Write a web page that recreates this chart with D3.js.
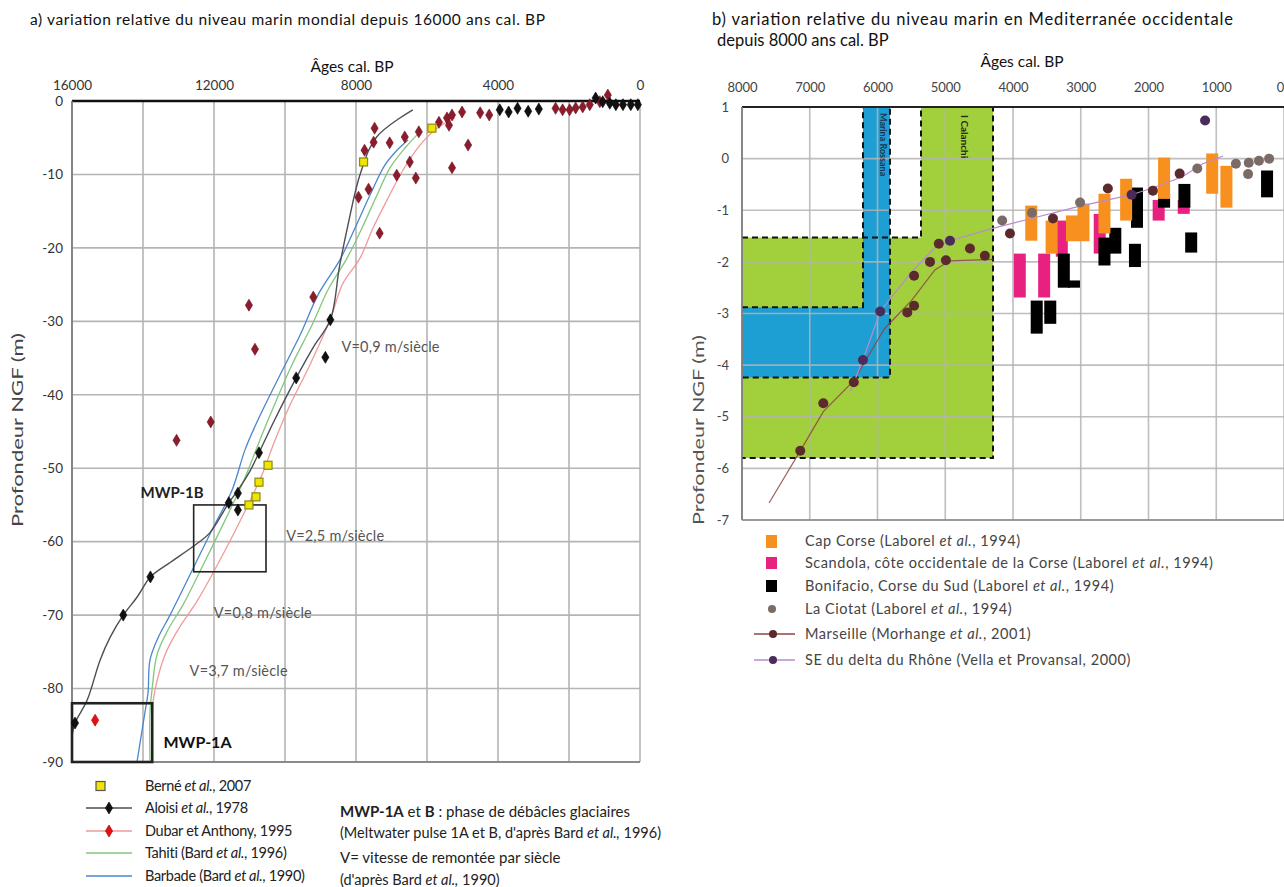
<!DOCTYPE html>
<html><head><meta charset="utf-8">
<script src="https://d3js.org/d3.v7.min.js"></script>
<style>
body{margin:0;background:#fff;}
svg{display:block;font-family:Lato,"Open Sans",sans-serif;}
</style></head>
<body>
<svg id="c" width="1284" height="887"></svg>
<script>
// ---------- DATA : panel a ----------
const leftXTicks = [16000, 12000, 8000, 4000, 0];
const leftXGrid = [16000, 14000, 12000, 10000, 8000, 6000, 4000, 2000, 0];
const leftYTicks = [0, -10, -20, -30, -40, -50, -60, -70, -80, -90];

const berne = [[7787,-8.3],[5862,-3.7],[10478,-49.6],[10733,-51.9],[10818,-53.9],[11016,-55.0]];
const aloisiLine = [[16000,-86.5],[15915,-84.7],[15575,-81.6],[15207,-76.1],[14924,-73.0],[14556,-70.0],[14159,-67.5],[13791,-64.8],[13225,-62.8],[12602,-60.7],[12120,-58.8],[11582,-54.7],[11327,-53.0],[11000,-50.5],[10733,-47.9],[10300,-43.5],[9685,-37.7],[9200,-33.5],[8722,-29.8],[8467,-22.6],[8240,-17.2],[7872,-9.8],[7419,-4.9],[6400,-1.2]];
const aloisiPts = [[15915,-84.7],[14556,-70.0],[13791,-64.8],[11582,-54.7],[11327,-53.4],[11327,-55.7],[10733,-47.9],[9685,-37.7],[8863,-34.9],[8722,-29.8],[3950,-1.2],[3700,-1.5],[3450,-1.0],[3150,-1.4],[2850,-1.1],[1250,0.4],[1050,-0.1],[850,-0.3],[680,-0.5],[480,-0.5],[260,-0.5],[60,-0.5]];
const dubarPts = [[11016,-27.8],[10846,-33.8],[12092,-43.7],[13055,-46.2],[9203,-26.7],[7476,-3.7],[7504,-5.6],[7759,-6.7],[7051,-5.7],[6626,-4.9],[6230,-4.2],[7929,-13.1],[7646,-12.0],[6853,-10.1],[6485,-8.3],[6315,-10.5],[7334,-18.0],[5663,-2.9],[5437,-2.3],[5295,-1.9],[5012,-1.5],[5380,-3.3],[4502,-1.6],[4247,-1.9],[5295,-9.1],[4842,-6.0],[2378,-1.0],[2180,-1.2],[1982,-1.2],[1812,-0.95],[1614,-0.8],[1415,-0.5],[906,0.8],[1132,-0.1]];
const dubarRed = [[15349,-84.3]];
const dubarLine = [[13746,-90],[13746,-83.2],[13662,-80.2],[13380,-75.4],[13014,-72.0],[12451,-67.9],[11831,-62.5],[11183,-56.4],[10648,-50.9],[10282,-46.2],[9859,-41.4],[9296,-35.9],[8732,-29.8],[8366,-24.8],[7887,-21.4],[7521,-17.3],[7127,-13.5],[6676,-9.4],[6197,-6.0],[5718,-3.7],[5211,-2.3]];
const tahitiLine = [[13803,-90],[13803,-83.2],[13746,-80.2],[13606,-75.4],[13296,-72.0],[12873,-68.6],[12310,-63.2],[11690,-57.1],[11155,-51.6],[10760,-46.8],[10422,-42.8],[9803,-35.9],[9239,-30.5],[8788,-25.7],[8253,-21.4],[7831,-17.3],[7436,-13.1],[7042,-9.1],[6620,-6.4],[6197,-4.2]];
const barbadeLine = [[14169,-90],[13944,-83.2],[13859,-80.6],[13803,-76.1],[13577,-73.1],[13239,-70.0],[12676,-64.5],[12056,-58.4],[11493,-53.0],[11127,-47.5],[10760,-43.4],[10141,-37.3],[9578,-31.9],[9070,-26.4],[8450,-21.6],[8028,-17.3],[7605,-12.8],[7183,-8.7],[6845,-6.7],[6535,-5.3]];
const mwpBoxes = [{name:"MWP-1B", x0:12573, x1:10535, y0:-55, y1:-64.1},{name:"MWP-1A", x0:16000, x1:13740, y0:-82, y1:-90}];
const leftNotes = [
  {t:"V=0,9 m/siècle", yr:8410, d:-34.2},
  {t:"V=2,5 m/siècle", yr:9968, d:-59.9},
  {t:"V=0,8 m/siècle", yr:12007, d:-70.4},
  {t:"V=3,7 m/siècle", yr:12687, d:-78.3}];

// ---------- DATA : panel b ----------
const rightXTicks = [8000,7000,6000,5000,4000,3000,2000,1000,0];
const rightYTicks = [1,0,-1,-2,-3,-4,-5,-6,-7];
const greenZone = [[8000,-1.53],[5358,-1.53],[5358,1],[4295,1],[4295,-5.8],[8000,-5.8]];
const blueZone = [[8000,-2.88],[6214,-2.88],[6214,1],[5816,1],[5816,-4.24],[8000,-4.24]];
const capCorse = [[3730,-0.91,-1.59],[3430,-1.2,-1.84],[3130,-1.1,-1.6],[2960,-0.87,-1.6],[2650,-0.68,-1.45],[2330,-0.39,-1.2],[1770,0.02,-0.78],[1060,0.1,-0.68],[850,-0.14,-0.95]];
const scandola = [[3900,-1.84,-2.69],[3540,-1.84,-2.69],[3280,-1.2,-1.9],[2720,-1.07,-1.84],[1850,-0.8,-1.2],[1480,-0.8,-1.07]];
const bonifacio = [[3250,-1.84,-2.5],[2650,-1.53,-2.07],[2490,-1.34,-1.84],[2200,-1.65,-2.1],[2170,-0.56,-1.34],[1770,-0.68,-0.95],[1470,-0.49,-0.95],[1370,-1.43,-1.82],[250,-0.23,-0.75],[3650,-2.75,-3.39],[3450,-2.75,-3.2],[3100,-2.36,-2.5]];
const laCiotat = [[4160,-1.2],[3720,-1.05],[3010,-0.85],[1280,-0.19],[710,-0.1],[520,-0.08],[530,-0.3],[370,-0.04],[220,0.0]];
const marseilleLine = [[7601,-6.67],[7140,-5.66],[6800,-4.9],[6350,-4.3],[5900,-3.3],[5500,-2.75],[5150,-2.15],[4930,-1.98],[4300,-1.95]];
const marseillePts = [[7140,-5.66],[6800,-4.74],[6350,-4.33],[5560,-2.98],[5460,-2.85],[5460,-2.27],[5225,-2.0],[4990,-1.97],[5095,-1.65],[4635,-1.74],[4415,-1.88],[4045,-1.45],[3410,-1.16],[2600,-0.58],[1935,-0.62],[1540,-0.29]];
const rhoneLine = [[6400,-4.5],[6215,-3.9],[5960,-2.96],[5500,-2.2],[5150,-1.72],[4930,-1.59],[4300,-1.35],[3700,-1.15],[3100,-0.95],[2600,-0.8],[2250,-0.7],[1900,-0.55],[1500,-0.35],[1200,-0.1],[900,0.05]];
const rhonePts = [[6215,-3.9],[5960,-2.96],[4930,-1.59],[2250,-0.7],[1165,0.74]];

const leftLegend = ["Berné|et al.|, 2007","Aloisi |et al.|, 1978","Dubar et Anthony, 1995||","Tahiti (Bard |et al.|, 1996)","Barbade (Bard |et al.|, 1990)"];
const rightLegend = ["Cap Corse (Laborel et al., 1994)","Scandola, côte occidentale de la Corse (Laborel et al., 1994)","Bonifacio, Corse du Sud (Laborel et al., 1994)","La Ciotat (Laborel et al., 1994)","Marseille (Morhange et al., 2001)","SE du delta du Rhône (Vella et Provansal, 2000)"];

// ---------- DRAW ----------
const svg = d3.select("#c");
const C = {dubar:"#8e1b2b", red:"#e41010", aloisi:"#111", aloisiLine:"#4d4d55", pink:"#f19a9a", green:"#83c77c", blue:"#4a87cc",
  yellow:"#f0e400", grid:"#b4b4b4", orange:"#f7901e", magenta:"#e8207f", ciotat:"#7a6b67", mars:"#8c4444", marsDot:"#5b2a2c",
  rhone:"#b88ad0", rhoneDot:"#4a2c58", gz:"#a2cf3c", bz:"#1e9fd4"};
const fmt = d => String(d);

// Panel a scales
const xL = d3.scaleLinear().domain([16000,0]).range([72,640]);
const yL = d3.scaleLinear().domain([0,-90]).range([101,762]);
const gA = svg.append("g");

gA.append("text").attr("x",30).attr("y",25).attr("font-size",15.5).attr("fill","#111").attr("textLength",515).attr("lengthAdjust","spacing")
  .text("a) variation relative du niveau marin mondial depuis 16000 ans cal. BP");
gA.append("text").attr("x",352).attr("y",72).attr("font-size",15.5).attr("text-anchor","middle").attr("fill","#111").text("Âges cal. BP");

// grid
gA.selectAll(".vg").data(leftXGrid).join("line").attr("x1",d=>xL(d)).attr("x2",d=>xL(d)).attr("y1",yL(0)).attr("y2",yL(-90))
  .attr("stroke",C.grid).attr("stroke-width",1.6);
gA.selectAll(".hg").data(leftYTicks).join("line").attr("x1",xL(16000)).attr("x2",xL(0)).attr("y1",d=>yL(d)).attr("y2",d=>yL(d))
  .attr("stroke",C.grid).attr("stroke-width",1.6);
gA.append("line").attr("x1",xL(16000)).attr("x2",xL(0)).attr("y1",yL(0)).attr("y2",yL(0)).attr("stroke","#111").attr("stroke-width",2.5);
gA.append("line").attr("x1",xL(16000)).attr("x2",xL(16000)).attr("y1",yL(0)).attr("y2",yL(-90)).attr("stroke","#777").attr("stroke-width",1.6);
gA.append("line").attr("x1",xL(16000)).attr("x2",xL(0)).attr("y1",yL(-90)).attr("y2",yL(-90)).attr("stroke","#777").attr("stroke-width",1.6);

// axes labels
const axT = d3.axisTop(xL).tickValues(leftXTicks).tickSize(0).tickPadding(0).tickFormat(fmt);
gA.append("g").attr("transform","translate(0,90)").call(axT).call(g=>g.select(".domain").remove())
  .selectAll("text").attr("font-size",13.5).attr("fill","#333").attr("font-family","Lato");
const axY = d3.axisLeft(yL).tickValues(leftYTicks).tickSize(0).tickPadding(0).tickFormat(fmt);
gA.append("g").attr("transform","translate(63,0)").call(axY).call(g=>g.select(".domain").remove())
  .selectAll("text").attr("font-size",13.5).attr("fill","#333").attr("font-family","Lato");
gA.append("text").attr("transform","translate(23,430) rotate(-90)").attr("text-anchor","middle").attr("font-size",16)
  .attr("fill","#444").attr("textLength",194).attr("lengthAdjust","spacingAndGlyphs").text("Profondeur NGF (m)");

// lines
const lineL = d3.line().x(d=>xL(d[0])).y(d=>yL(d[1])).curve(d3.curveCatmullRom);
gA.append("path").datum(barbadeLine).attr("d",lineL).attr("fill","none").attr("stroke",C.blue).attr("stroke-width",1.3);
gA.append("path").datum(tahitiLine).attr("d",lineL).attr("fill","none").attr("stroke",C.green).attr("stroke-width",1.3);
gA.append("path").datum(dubarLine).attr("d",lineL).attr("fill","none").attr("stroke",C.pink).attr("stroke-width",1.3);
gA.append("path").datum(aloisiLine).attr("d",lineL).attr("fill","none").attr("stroke",C.aloisiLine).attr("stroke-width",1.4);

// boxes
gA.selectAll(".box").data(mwpBoxes).join("rect")
  .attr("x",d=>xL(d.x0)).attr("y",d=>yL(d.y0)).attr("width",d=>xL(d.x1)-xL(d.x0)).attr("height",d=>yL(d.y1)-yL(d.y0))
  .attr("fill","none").attr("stroke","#222").attr("stroke-width",(d,i)=>i? 2.6:1.6);

const diamond = "M0,-6L3.6,0L0,6L-3.6,0Z";
const drawDiam = (data,fill,stroke)=> gA.selectAll(null).data(data).join("path").attr("d",diamond)
  .attr("transform",d=>`translate(${xL(d[0])},${yL(d[1])})`).attr("fill",fill).attr("stroke",stroke).attr("stroke-width",0.6);
drawDiam(dubarPts,C.dubar,"#6a1420");
drawDiam(dubarRed,C.red,"#b00");
drawDiam(aloisiPts,C.aloisi,"#000");
gA.selectAll(null).data(berne).join("rect").attr("x",d=>xL(d[0])-4).attr("y",d=>yL(d[1])-4).attr("width",8).attr("height",8)
  .attr("fill",C.yellow).attr("stroke","#8a8a10").attr("stroke-width",1.2);

// annotations
gA.selectAll(null).data(leftNotes).join("text").attr("x",d=>xL(d.yr)).attr("y",d=>yL(d.d)).attr("font-size",14.5)
  .attr("fill","#555").attr("letter-spacing",0.2).text(d=>d.t);
gA.append("text").attr("x",xL(12290)).attr("y",yL(-54)).attr("text-anchor","end").attr("font-size",15).attr("font-weight","bold").attr("fill","#222").text("MWP-1B");
gA.append("text").attr("x",xL(13423)).attr("y",yL(-88.1)).attr("font-size",16).attr("font-weight","bold").attr("fill","#111").text("MWP-1A");

// left legend
const lgL = gA.append("g");
const lgY = [786,808,831,853,876];
lgL.append("rect").attr("x",96).attr("y",lgY[0]-4.5).attr("width",9).attr("height",9).attr("fill",C.yellow).attr("stroke","#555").attr("stroke-width",1.2);
[[C.aloisiLine,C.aloisi],[C.pink,C.red],[C.green,null],[C.blue,null]].forEach((c,i)=>{
  const y = lgY[i+1];
  lgL.append("line").attr("x1",86).attr("x2",132).attr("y1",y).attr("y2",y).attr("stroke",c[0]).attr("stroke-width",1.6);
  if(c[1]) lgL.append("path").attr("d",diamond).attr("transform",`translate(109,${y})`).attr("fill",c[1]).attr("stroke",c[1]==C.red?"#900":"#000").attr("stroke-width",0.6);
});
leftLegend.forEach((s,i)=>{
  const p = s.split("|");
  const t = lgL.append("text").attr("x",145).attr("y",lgY[i]+5).attr("font-size",14.5).attr("fill","#222").attr("letter-spacing",-0.3);
  t.append("tspan").text(p[0]);
  if(p[1]) t.append("tspan").attr("font-style","italic").text((i===0?" ":"")+p[1]);
  if(p[2]) t.append("tspan").text(p[2]);
});
// middle notes
const mn = gA.append("g").attr("font-size",15).attr("fill","#222");
let t1 = mn.append("text").attr("x",340).attr("y",817);
t1.append("tspan").attr("font-weight","bold").text("MWP-1A");
t1.append("tspan").text(" et ");
t1.append("tspan").attr("font-weight","bold").text("B");
t1.append("tspan").text(" : phase de débâcles glaciaires");
let t2 = mn.append("text").attr("x",340).attr("y",838).attr("font-size",14.5);
t2.append("tspan").text("(Meltwater pulse 1A et B, d'après Bard ");
t2.append("tspan").attr("font-style","italic").text("et al.,");
t2.append("tspan").text(" 1996)");
mn.append("text").attr("x",340).attr("y",863).text("V= vitesse de remontée par siècle");
let t4 = mn.append("text").attr("x",340).attr("y",885).attr("font-size",14.5);
t4.append("tspan").text("(d'après Bard ");
t4.append("tspan").attr("font-style","italic").text("et al.,");
t4.append("tspan").text(" 1990)");

// ---------- Panel b ----------
const xR = d3.scaleLinear().domain([8000,0]).range([742,1284]);
const yR = d3.scaleLinear().domain([1,-7]).range([107,520]);
const gB = svg.append("g");
gB.append("text").attr("x",712).attr("y",25).attr("font-size",16.5).attr("fill","#111").attr("textLength",521).attr("lengthAdjust","spacing")
  .text("b) variation relative du niveau marin en Mediterranée occidentale");
gB.append("text").attr("x",717).attr("y",46).attr("font-size",16.5).attr("fill","#111").text("depuis 8000 ans cal. BP");
gB.append("text").attr("x",1022).attr("y",67).attr("font-size",15.5).attr("text-anchor","middle").attr("fill","#111").text("Âges cal. BP");

// zones
const zoneLine = d3.line().x(d=>xR(d[0])).y(d=>yR(d[1]));
gB.append("path").datum(greenZone).attr("d",d=>zoneLine(d)+"Z").attr("fill",C.gz);
gB.append("path").datum(blueZone).attr("d",d=>zoneLine(d)+"Z").attr("fill",C.bz);

// grid
gB.selectAll(null).data(rightXTicks).join("line").attr("x1",d=>xR(d)).attr("x2",d=>xR(d)).attr("y1",yR(1)).attr("y2",yR(-7))
  .attr("stroke",C.grid).attr("stroke-width",1.6).attr("opacity",0.85);
gB.selectAll(null).data(rightYTicks).join("line").attr("x1",xR(8000)).attr("x2",xR(0)).attr("y1",d=>yR(d)).attr("y2",d=>yR(d))
  .attr("stroke",C.grid).attr("stroke-width",1.6).attr("opacity",0.85);
gB.append("path").datum(greenZone).attr("d",zoneLine).attr("fill","none").attr("stroke","#111").attr("stroke-width",2).attr("stroke-dasharray","6,4");
gB.append("path").datum(blueZone).attr("d",zoneLine).attr("fill","none").attr("stroke","#111").attr("stroke-width",2).attr("stroke-dasharray","6,4");
gB.append("line").attr("x1",xR(8000)).attr("x2",xR(0)).attr("y1",yR(1)).attr("y2",yR(1)).attr("stroke","#222").attr("stroke-width",2.2);
gB.append("line").attr("x1",xR(8000)).attr("x2",xR(8000)).attr("y1",yR(1)).attr("y2",yR(-7)).attr("stroke","#777").attr("stroke-width",1.6);
gB.append("line").attr("x1",xR(8000)).attr("x2",xR(0)).attr("y1",yR(-7)).attr("y2",yR(-7)).attr("stroke","#888").attr("stroke-width",1.6);

// zone labels
gB.append("text").attr("transform",`translate(${xR(6015)+4},${yR(1)+6}) rotate(90)`).attr("font-size",9).attr("font-weight","bold")
  .attr("fill","#1a3550").text("Marina Rossana");
gB.append("text").attr("transform",`translate(${xR(4830)+4},${yR(1)+8}) rotate(90)`).attr("font-size",10).attr("font-weight","bold")
  .attr("fill","#1d2a10").text("I Calanchi");

// axes
const axTR = d3.axisTop(xR).tickValues(rightXTicks).tickSize(0).tickPadding(0).tickFormat(fmt);
gB.append("g").attr("transform","translate(0,92)").call(axTR).call(g=>g.select(".domain").remove())
  .selectAll("text").attr("font-size",13).attr("fill","#444").attr("font-family","Lato")
  .attr("dx",d=>d===0?-4:0);
const axYR = d3.axisLeft(yR).tickValues(rightYTicks).tickSize(0).tickPadding(0).tickFormat(fmt);
gB.append("g").attr("transform","translate(729,0)").call(axYR).call(g=>g.select(".domain").remove())
  .selectAll("text").attr("font-size",13).attr("fill","#444").attr("font-family","Lato");
gB.append("text").attr("transform","translate(704,430) rotate(-90)").attr("text-anchor","middle").attr("font-size",15)
  .attr("fill","#555").attr("textLength",190).attr("lengthAdjust","spacingAndGlyphs").text("Profondeur NGF (m)");

// bars
const barW = 12;
const bars = (data,col)=> gB.selectAll(null).data(data).join("rect").attr("x",d=>xR(d[0])-barW/2).attr("y",d=>yR(d[1]))
  .attr("width",barW).attr("height",d=>yR(d[2])-yR(d[1])).attr("fill",col);
bars(scandola,C.magenta);
bars(bonifacio,"#000");
bars(capCorse,C.orange);

// lines + dots
const lineR = d3.line().x(d=>xR(d[0])).y(d=>yR(d[1])).curve(d3.curveLinear);
gB.append("path").datum(marseilleLine).attr("d",lineR).attr("fill","none").attr("stroke",C.mars).attr("stroke-width",1.2).attr("opacity",0.85);
gB.append("path").datum(rhoneLine).attr("d",lineR).attr("fill","none").attr("stroke",C.rhone).attr("stroke-width",1.2);
const dots = (data,col,r)=> gB.selectAll(null).data(data).join("circle").attr("cx",d=>xR(d[0])).attr("cy",d=>yR(d[1])).attr("r",r).attr("fill",col);
dots(laCiotat,C.ciotat,5);
dots(marseillePts,C.marsDot,5);
dots(rhonePts,C.rhoneDot,5);

// right legend
const lgR = gB.append("g");
const rY = [541,563,586,609,634,660];
lgR.append("rect").attr("x",766).attr("y",rY[0]-6).attr("width",11).attr("height",13).attr("fill",C.orange);
lgR.append("rect").attr("x",766).attr("y",rY[1]-6).attr("width",11).attr("height",12).attr("fill",C.magenta);
lgR.append("rect").attr("x",766).attr("y",rY[2]-6).attr("width",11).attr("height",12).attr("fill","#000");
lgR.append("circle").attr("cx",772).attr("cy",rY[3]).attr("r",4).attr("fill",C.ciotat);
lgR.append("line").attr("x1",754).attr("x2",795).attr("y1",rY[4]).attr("y2",rY[4]).attr("stroke",C.mars).attr("stroke-width",1.3);
lgR.append("circle").attr("cx",773).attr("cy",rY[4]).attr("r",4).attr("fill",C.marsDot);
lgR.append("line").attr("x1",754).attr("x2",795).attr("y1",rY[5]).attr("y2",rY[5]).attr("stroke",C.rhone).attr("stroke-width",1.3);
lgR.append("circle").attr("cx",773).attr("cy",rY[5]).attr("r",4).attr("fill",C.rhoneDot);
rightLegend.forEach((s,i)=>{
  const m = s.match(/^(.*)(et al\.)(.*)$/);
  const t = lgR.append("text").attr("x",805).attr("y",rY[i]+5).attr("font-size",14.5).attr("fill","#444").attr("letter-spacing",0.55);
  if(m && i!==5){ t.append("tspan").text(m[1]); t.append("tspan").attr("font-style","italic").text(m[2]); t.append("tspan").text(m[3]); }
  else t.text(s);
});
</script>
</body></html>
